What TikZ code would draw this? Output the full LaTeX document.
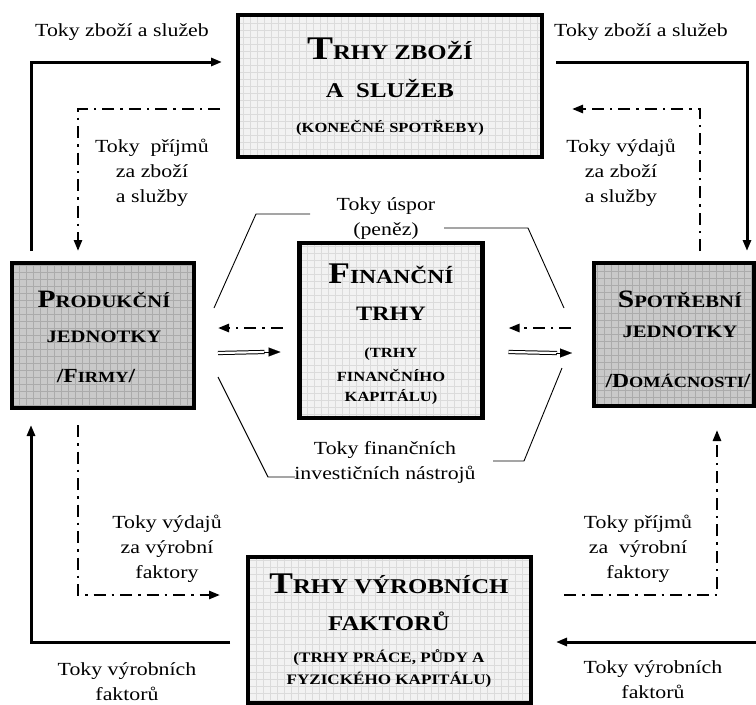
\documentclass[tikz,border=0pt]{standalone}
\usepackage{fontspec}
\setmainfont{Liberation Serif}[FakeStretch=1.18]
\usetikzlibrary{arrows.meta}
\newcommand\fsz[2]{{\fontsize{#1}{#1}\selectfont #2}}
\definecolor{lightfill}{gray}{0.95}
\definecolor{lightgrid}{gray}{0.86}
\definecolor{darkfill}{gray}{0.79}
\definecolor{darkgrid}{gray}{0.67}
\tikzset{
  box/.style={draw=black, line width=4.5pt, inner sep=0pt, outer sep=0pt},
  lightbox/.style={box, fill=lightfill, path picture={\draw[lightgrid, line width=0.6pt, step=7pt] (path picture bounding box.south west) grid (path picture bounding box.north east);}},
  darkbox/.style={box, fill=darkfill, path picture={\draw[darkgrid, line width=0.6pt, step=7pt] (path picture bounding box.south west) grid (path picture bounding box.north east);}},
  bt/.style={anchor=base, inner sep=0pt, font=\bfseries},
  lbl/.style={align=center, inner sep=0pt, font=\fontsize{18.5}{25}\selectfont},
  flow/.style={line width=3pt, -{Triangle[length=11pt,width=8pt]}},
  money/.style={line width=2.5pt, dash pattern=on 12pt off 6pt on 2.5pt off 6pt, -{Triangle[length=11pt,width=8pt]}},
  dbl/.style={double=white, line width=1pt, double distance=2.2pt},
  thin/.style={line width=0.9pt},
  tip/.style={-{Triangle[length=12pt,width=9pt]}, line width=0.1pt}
}
\begin{document}
\begin{tikzpicture}[x=1pt,y=-1pt]
\useasboundingbox (0,0) rectangle (756,705);
% boxes
\node[lightbox, minimum width=304pt, minimum height=142pt] (T) at (390,86) {};
\node[darkbox, minimum width=182pt, minimum height=145pt] (L) at (103,335.5) {};
\node[darkbox, minimum width=160pt, minimum height=143pt] (R) at (674,334.5) {};
\node[lightbox, minimum width=183pt, minimum height=175pt] (C) at (391,330.5) {};
\node[lightbox, minimum width=283pt, minimum height=146pt] (B) at (389.5,630) {};
% top box text
\node[bt] (t1) at (390,59) {\fsz{33}{T}\fsz{21}{RHY ZBOŽÍ}};
\node[bt] (t2) at (390,97) {\fsz{21}{A\ \ SLUŽEB}};
\node[bt] (t3) at (390,132) {\fsz{14}{(KONEČNÉ SPOTŘEBY)}};
% left box text
\node[bt] (l1) at (104,307) {\fsz{25}{P}\fsz{17.5}{RODUKČNÍ}};
\node[bt] (l2) at (104,342) {\fsz{17.5}{JEDNOTKY}};
\node[bt] (l3) at (96,382) {\fsz{20}{/F}\fsz{15.5}{IRMY}\fsz{20}{/}};
% right box text
\node[bt] (r1) at (680,307) {\fsz{25}{S}\fsz{17.5}{POTŘEBNÍ}};
\node[bt] (r2) at (680,337) {\fsz{17.5}{JEDNOTKY}};
\node[bt] (r3) at (678,387) {\fsz{20}{/D}\fsz{15.5}{OMÁCNOSTI}\fsz{20}{/}};
% center box text
\node[bt] (c1) at (391,283) {\fsz{30}{F}\fsz{20}{INANČNÍ}};
\node[bt] (c2) at (391,320) {\fsz{20.5}{TRHY}};
\node[bt] (c3) at (391,357) {\fsz{14}{(TRHY}};
\node[bt] (c4) at (391,381) {\fsz{14}{FINANČNÍHO}};
\node[bt] (c5) at (391,401) {\fsz{14}{KAPITÁLU)}};
% bottom box text
\node[bt] (b1) at (389,593) {\fsz{30}{T}\fsz{21}{RHY VÝROBNÍCH}};
\node[bt] (b2) at (389,630) {\fsz{21}{FAKTORŮ}};
\node[bt] (b3) at (389,662) {\fsz{14.5}{(TRHY PRÁCE, PŮDY A}};
\node[bt] (b4) at (389,684) {\fsz{14.5}{FYZICKÉHO KAPITÁLU)}};
% flow labels
\node[lbl] (g1) at (122,32) {Toky zboží a služeb};
\node[lbl] (g2) at (641,32) {Toky zboží a služeb};
\node[lbl] (p1) at (152,173) {Toky\ \ příjmů\\za zboží\\a služby};
\node[lbl] (v1) at (621,173) {Toky výdajů\\za zboží\\a služby};
\node[lbl] (s1) at (386,219) {Toky úspor\\(peněz)};
\node[lbl] (i1) at (385,462) {Toky finančních\\investičních nástrojů};
\node[lbl] (v2) at (167,549) {Toky výdajů\\za výrobní\\faktory};
\node[lbl] (p2) at (638,549) {Toky příjmů\\za\ \ výrobní\\faktory};
\node[lbl] (f1) at (127,682) {Toky výrobních\\faktorů};
\node[lbl] (f2) at (653,680) {Toky výrobních\\faktorů};
% coordinates
\coordinate (e1) at (756,642);
% goods flows (solid)
\draw[flow] ([xshift=19pt,yshift=12pt]L.north west) |- ([xshift=-16pt,yshift=-47pt]T.north west);
\draw[flow] ([xshift=14pt,yshift=-47pt]T.north east) -| ([xshift=153pt,yshift=12pt]R.north west);
\draw[flow] ([xshift=-18pt,yshift=-85pt]B.north west) -| ([xshift=19pt,yshift=-17pt]L.south west);
\draw[flow] (e1) -- ([xshift=25pt,yshift=-85pt]B.north east);
% money flows (dash-dot)
\draw[money] ([xshift=-18pt,yshift=-94pt]T.north west) -| ([xshift=66pt,yshift=12pt]L.north west);
\draw[money] ([xshift=106pt,yshift=12pt]R.north west) |- ([xshift=30pt,yshift=-94pt]T.north east);
\draw[money] ([xshift=66pt,yshift=-17pt]L.south west) |- ([xshift=-28pt,yshift=-38pt]B.north west);
\draw[money] ([xshift=33pt,yshift=-38pt]B.north east) -| ([xshift=123pt,yshift=-24pt]R.south west);
% financial market arrows
\draw[money] ([xshift=-17pt,yshift=-85pt]C.north west) -- ([xshift=24pt,yshift=-65pt]L.north east);
\draw[money] ([xshift=-23pt,yshift=-65pt]R.north west) -- ([xshift=26pt,yshift=-85pt]C.north east);
\draw[dbl] ([xshift=24pt,yshift=-90pt]L.north east) -- ([xshift=-35pt,yshift=-109pt]C.north west);
\draw[tip] ([xshift=-36pt,yshift=-109pt]C.north west) -- ([xshift=-19pt,yshift=-109pt]C.north west);
\draw[dbl] ([xshift=26pt,yshift=-109pt]C.north east) -- ([xshift=-37pt,yshift=-90pt]R.north west);
\draw[tip] ([xshift=-38pt,yshift=-90pt]R.north west) -- ([xshift=-22pt,yshift=-90pt]R.north west);
% thin lines to labels
\draw[thin] ([xshift=-76pt,yshift=5pt]s1.center) -- ++(-54,0) -- ([xshift=20pt,yshift=-45pt]L.north east);
\draw[thin] ([xshift=58pt,yshift=-9pt]s1.center) -- ++(84,0) -- ([xshift=-30pt,yshift=-45pt]R.north west);
\draw[thin] ([xshift=-90pt,yshift=-15pt]i1.center) -- ++(-27,0) -- ([xshift=24pt,yshift=-114pt]L.north east);
\draw[thin] ([xshift=108pt,yshift=1pt]i1.center) -- ++(31,0) -- ([xshift=-32pt,yshift=-105pt]R.north west);
\end{tikzpicture}
\end{document}
